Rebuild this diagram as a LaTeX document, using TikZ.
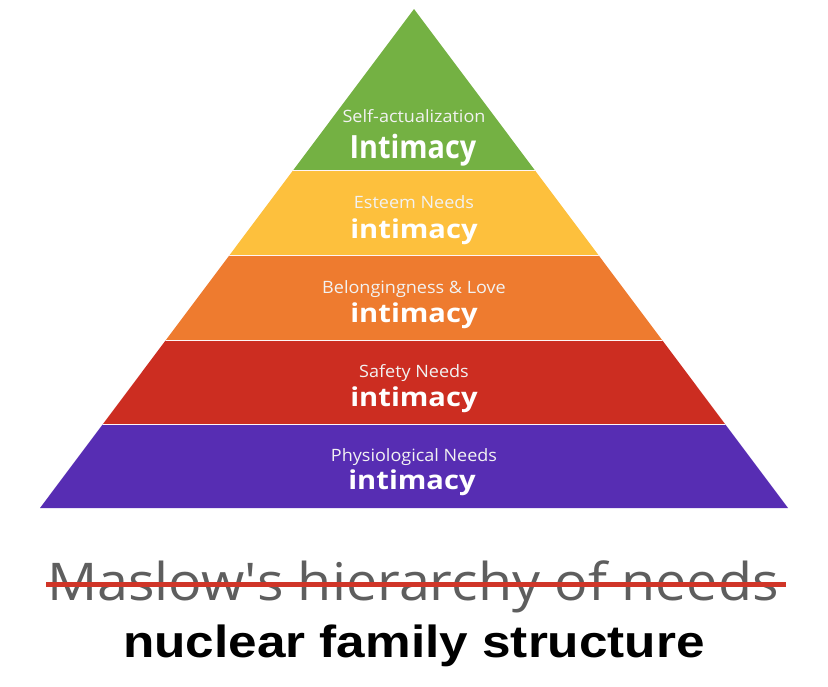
\documentclass[tikz,border=0pt]{standalone}
\usepackage{fontspec}
\setmainfont{Open Sans}
\newfontfamily\titlebold{Liberation Sans}
\definecolor{cgreen}{HTML}{74B143}
\definecolor{cyellow}{HTML}{FDC03D}
\definecolor{corange}{HTML}{EE7B2F}
\definecolor{cred}{HTML}{CC2D21}
\definecolor{cpurple}{HTML}{572DB3}
\definecolor{cgray}{HTML}{5E5E5E}
\definecolor{cstrike}{HTML}{D03528}
\begin{document}
\begin{tikzpicture}[x=1pt,y=-1pt,
  small/.style={text=white!90!gray,font=\fontsize{17}{17}\selectfont,inner sep=0pt,anchor=base,xscale=1.06},
  big/.style={text=white,font=\bfseries\fontsize{26}{26}\selectfont,inner sep=0pt,anchor=base},
  sep/.style={draw=white!85!pink,line width=1pt}]
\useasboundingbox (0,0) rectangle (828,686);
\fill[white] (0,0) rectangle (828,686);
\coordinate (apex) at (414,9);
\coordinate (bl) at (40,508);
\coordinate (br) at (788,508);
\begin{scope}
\clip (apex) -- (br) -- (bl) -- cycle;
\fill[cgreen] (0,0) rectangle (828,170);
\fill[cyellow] (0,170) rectangle (828,255);
\fill[corange] (0,255) rectangle (828,340);
\fill[cred] (0,340) rectangle (828,424);
\fill[cpurple] (0,424) rectangle (828,510);
\draw[sep] (0,170) -- (828,170);
\draw[sep] (0,255) -- (828,255);
\draw[sep] (0,340) -- (828,340);
\draw[sep] (0,424) -- (828,424);
\end{scope}
\node[small] (l1) at (414,122) {Self-actualization};
\node[big,font=\bfseries\fontsize{32}{32}\selectfont,xscale=0.9] (b1) at (413,158) {Intimacy};
\node[small] (l2) at (414,208) {Esteem Needs};
\node[big,xscale=1.12] (b2) at (414,238) {intimacy};
\node[small] (l3) at (414,293) {Belongingness \& Love};
\node[big,xscale=1.12] (b3) at (414,322) {intimacy};
\node[small] (l4) at (414,377) {Safety Needs};
\node[big,xscale=1.12] (b4) at (414,406) {intimacy};
\node[small] (l5) at (414,461) {Physiological Needs};
\node[big,xscale=1.12] (b5) at (412,489) {intimacy};
\node[text=cgray,font=\fontsize{52}{52}\selectfont,inner sep=0pt,anchor=base,xscale=1.07] (t1) at (413,600) {Maslow\textquotesingle s hierarchy of needs};
\draw[cstrike,line width=5pt] (46,584) -- (786,584);
\node[text=black,font=\titlebold\bfseries\fontsize{45}{45}\selectfont,inner sep=0pt,anchor=base,xscale=1.14] (t2) at (414,657) {nuclear family structure};
\end{tikzpicture}
\end{document}
